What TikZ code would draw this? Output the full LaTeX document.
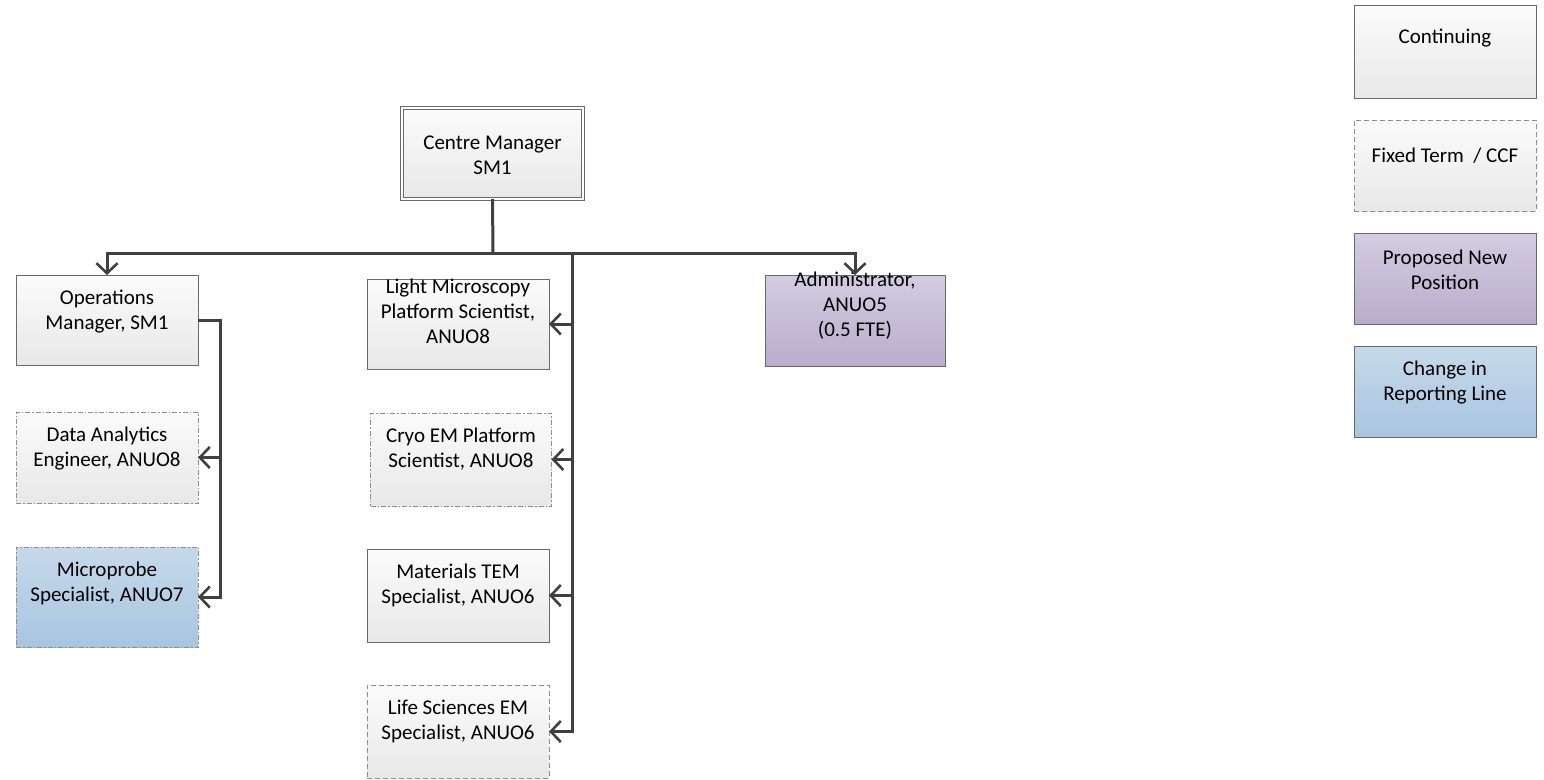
\documentclass[tikz,border=0pt]{standalone}
\usepackage{fontspec}
\setmainfont{Carlito}
\usetikzlibrary{arrows.meta,calc}
\definecolor{conncol}{HTML}{404040}
\definecolor{solidb}{HTML}{6A6A6A}
\definecolor{dashb}{HTML}{8E8E8E}
\definecolor{wtop}{HTML}{FBFBFB}
\definecolor{wbot}{HTML}{E8E8E8}
\definecolor{ptop}{HTML}{D4CCE1}
\definecolor{pbot}{HTML}{B8ADCC}
\definecolor{btop}{HTML}{C6D9EA}
\definecolor{bbot}{HTML}{A8C5E0}
\tikzset{
  box/.style={rectangle, inner sep=0pt, outer sep=0pt, line width=0.9pt},
  whitefill/.style={top color=wtop, bottom color=wbot},
  purplefill/.style={top color=ptop, bottom color=pbot},
  bluefill/.style={top color=btop, bottom color=bbot},
  solidbox/.style={box, draw=solidb},
  dashbox/.style={box, draw=dashb, dash pattern=on 5pt off 3pt},
  dashdotbox/.style={box, draw=dashb, dash pattern=on 5pt off 2pt on 1.5pt off 2pt},
  txt/.style={align=center, font=\fontsize{21}{25}\selectfont, text=black, inner sep=0pt},
  conn/.style={draw=conncol, line width=3pt},
  arr/.style={conn, -{Straight Barb[length=10pt, width=21pt, line width=2.6pt]}},
}
\newcommand{\boxtext}[2]{\node[txt] at ([yshift=-36.5pt]#1.north) {#2};}
\begin{document}
\begin{tikzpicture}[x=1pt,y=-1pt]
\useasboundingbox (0,0) rectangle (1544,779);
\fill[white] (0,0) rectangle (1544,779);

% Centre Manager
\node[solidbox, whitefill, double=white, double distance=2.2pt, minimum width=181pt, minimum height=91pt] (cm) at (492.5,153.5) {};
\node[txt] at ([yshift=-47pt]cm.north) {Centre Manager\\SM1};

% Left column
\node[solidbox, whitefill, minimum width=182pt, minimum height=90pt] (ops) at (107,320) {};
\boxtext{ops}{Operations\\Manager, SM1}
\node[dashdotbox, whitefill, minimum width=182pt, minimum height=91pt] (da) at (107,457.5) {};
\boxtext{da}{Data Analytics\\Engineer, ANUO8}
\node[dashdotbox, bluefill, minimum width=182pt, minimum height=100pt] (mp) at (107,597) {};
\boxtext{mp}{Microprobe\\Specialist, ANUO7}

% Middle column
\node[solidbox, whitefill, minimum width=182pt, minimum height=90pt] (lm) at (458,324) {};
\node[txt] at ([yshift=-32pt]lm.north) {Light Microscopy\\Platform Scientist,\\ANUO8};
\node[dashdotbox, whitefill, minimum width=181pt, minimum height=93pt] (cryo) at (461,459.5) {};
\boxtext{cryo}{Cryo EM Platform\\Scientist, ANUO8}
\node[solidbox, whitefill, minimum width=182pt, minimum height=93pt] (tem) at (458,595.5) {};
\boxtext{tem}{Materials TEM\\Specialist, ANUO6}
\node[dashbox, whitefill, minimum width=182pt, minimum height=93pt] (ls) at (458,731.5) {};
\boxtext{ls}{Life Sciences EM\\Specialist, ANUO6}

% Administrator
\node[solidbox, purplefill, minimum width=180pt, minimum height=91pt] (adm) at (855,320.5) {};
\node[txt] at ([yshift=-31pt]adm.north) {Administrator,\\ANUO5\\(0.5 FTE)};

% Legend
\node[solidbox, whitefill, minimum width=182pt, minimum height=93pt] (lcont) at (1445,51.5) {};
\node[txt] at ([yshift=-33pt]lcont.north) {Continuing};
\node[dashbox, whitefill, minimum width=182pt, minimum height=91pt] (lft) at (1445,165.5) {};
\node[txt] at ([yshift=-36pt]lft.north) {Fixed Term~ / CCF};
\node[solidbox, purplefill, minimum width=182pt, minimum height=91pt] (lpnp) at (1445,278.5) {};
\boxtext{lpnp}{Proposed New\\Position}
\node[solidbox, bluefill, minimum width=182pt, minimum height=91pt] (lchg) at (1445,391.5) {};
\boxtext{lchg}{Change in\\Reporting Line}

% Connectors
\coordinate (j) at (493,253);
\coordinate (trunk) at (572,253);
\coordinate (oj) at (220,320);
\draw[conn] (cm.south) -- (j);
\draw[arr] (j) -| (ops.north);
\draw[arr] (j) -| (adm.north);
\draw[arr] (trunk) |- (ls.east);
\draw[arr] (trunk |- lm.east) -- (lm.east);
\draw[arr] (trunk |- cryo.east) -- (cryo.east);
\draw[arr] (trunk |- tem.east) -- (tem.east);
\draw[arr] (ops.east) -- (oj) |- (mp.east);
\draw[arr] (oj |- da.east) -- (da.east);
\end{tikzpicture}
\end{document}
